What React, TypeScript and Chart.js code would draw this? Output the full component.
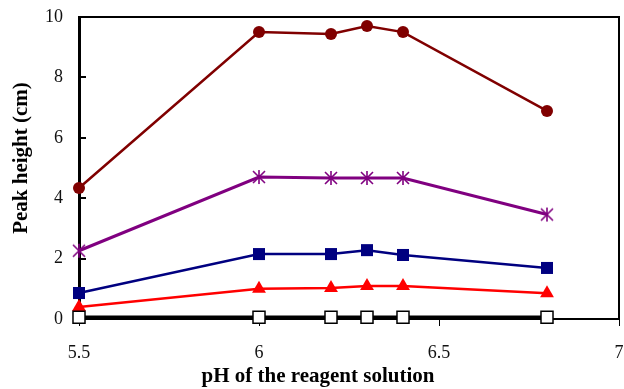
import React, { useEffect, useRef } from "react";
import { Chart, registerables } from "chart.js";

Chart.register(...registerables);

const phValues = [5.5, 6, 6.2, 6.3, 6.4, 6.8];
const seriesCircle = [4.34, 9.5, 9.44, 9.7, 9.5, 6.89];
const seriesStar = [2.26, 4.7, 4.67, 4.67, 4.67, 3.46];
const seriesSquare = [0.86, 2.15, 2.15, 2.28, 2.12, 1.69];
const seriesTriangle = [0.4, 1.0, 1.03, 1.09, 1.09, 0.85];
const seriesOpen = [0.06, 0.06, 0.06, 0.06, 0.06, 0.06];
const xTickValues = [5.5, 6, 6.5, 7];
const yTickValues = [0, 2, 4, 6, 8, 10];
const xTitle = "pH of the reagent solution";
const yTitle = "Peak height (cm)";

const FONT = "'Liberation Serif', 'Times New Roman', serif";

const toPoints = (ys: number[]) => phValues.map((x, i) => ({ x, y: ys[i] }));

function makeAsterisk(color: string) {
  const c = document.createElement("canvas");
  const s = 16;
  c.width = s;
  c.height = s;
  const g = c.getContext("2d")!;
  g.strokeStyle = color;
  g.lineWidth = 1.6;
  g.lineCap = "butt";
  g.beginPath();
  g.moveTo(s / 2, 1);
  g.lineTo(s / 2, s - 1);
  g.moveTo(2, 2);
  g.lineTo(s - 2, s - 2);
  g.moveTo(s - 2, 2);
  g.lineTo(2, s - 2);
  g.stroke();
  return c;
}

const decor = {
  id: "decor",
  beforeDatasetsDraw(chart: any) {
    const { ctx, chartArea, scales } = chart;
    const { left, right, top, bottom } = chartArea;
    ctx.save();
    ctx.strokeStyle = "#000";
    ctx.lineWidth = 2;
    ctx.beginPath();
    ctx.moveTo(left, top);
    ctx.lineTo(right, top);
    ctx.lineTo(right, bottom);
    ctx.stroke();
    ctx.lineWidth = 2;
    ctx.beginPath();
    yTickValues.forEach((v) => {
      const py = Math.round(scales.y.getPixelForValue(v));
      ctx.moveTo(left, py);
      ctx.lineTo(left + 7, py);
    });
    ctx.stroke();
    ctx.lineWidth = 1;
    ctx.beginPath();
    xTickValues.forEach((v) => {
      const px = Math.round(scales.x.getPixelForValue(v)) + 0.5;
      ctx.moveTo(px, bottom);
      ctx.lineTo(px, bottom + 7);
    });
    ctx.stroke();
    ctx.restore();
  },
  afterDraw(chart: any) {
    const { ctx } = chart;
    ctx.save();
    ctx.fillStyle = "#000";
    ctx.font = `bold 21px ${FONT}`;
    ctx.textAlign = "center";
    ctx.textBaseline = "middle";
    ctx.fillText(xTitle, 318, 377);
    ctx.translate(22, 158);
    ctx.rotate(-Math.PI / 2);
    ctx.fillText(yTitle, 0, 0);
    ctx.restore();
  },
};

export default function App() {
  const ref = useRef<HTMLCanvasElement | null>(null);
  useEffect(() => {
    document.body.style.margin = "0";
    const canvas = ref.current;
    if (!canvas) return;
    const common = { clip: false as any, showLine: true, tension: 0 };
    const chart = new Chart(canvas, {
      type: "scatter",
      data: {
        datasets: [
          {
            ...common,
            label: "open",
            data: toPoints(seriesOpen),
            borderColor: "#000",
            backgroundColor: "#fff",
            borderWidth: 3.5,
            pointStyle: "rect",
            pointRadius: 8.5,
            pointBorderWidth: 1.5,
            pointBorderColor: "#000",
            pointBackgroundColor: "#fff",
          },
          {
            ...common,
            label: "triangle",
            data: toPoints(seriesTriangle),
            borderColor: "#ff0000",
            backgroundColor: "#ff0000",
            borderWidth: 2.5,
            pointStyle: "triangle",
            pointRadius: 8,
            pointBorderWidth: 0,
          },
          {
            ...common,
            label: "square",
            data: toPoints(seriesSquare),
            borderColor: "#000080",
            backgroundColor: "#000080",
            borderWidth: 2.5,
            pointStyle: "rect",
            pointRadius: 8.5,
            pointBorderWidth: 0,
          },
          {
            ...common,
            label: "star",
            data: toPoints(seriesStar),
            borderColor: "#800080",
            backgroundColor: "#800080",
            borderWidth: 3,
            pointStyle: makeAsterisk("#800080") as any,
            pointRadius: 8,
          },
          {
            ...common,
            label: "circle",
            data: toPoints(seriesCircle),
            borderColor: "#800000",
            backgroundColor: "#800000",
            borderWidth: 2.5,
            pointStyle: "circle",
            pointRadius: 6,
            pointBorderWidth: 0,
          },
        ],
      },
      options: {
        responsive: false,
        animation: false,
        layout: { autoPadding: false, padding: { left: 0, right: 5, top: 17, bottom: 0 } },
        plugins: { legend: { display: false }, tooltip: { enabled: false } },
        scales: {
          x: {
            type: "linear",
            min: 5.5,
            max: 7,
            afterFit: (s: any) => {
              s.height = 70;
              s.paddingLeft = 0;
              s.paddingRight = 0;
              s.paddingTop = 0;
              s.paddingBottom = 0;
            },
            afterBuildTicks: (s: any) => {
              s.ticks = xTickValues.map((v) => ({ value: v }));
            },
            grid: { display: false },
            border: { display: true, color: "#000", width: 2 },
            ticks: {
              padding: 15,
              maxRotation: 0,
              color: "#111",
              font: { family: FONT, size: 18 },
              callback: (v: any) => String(v),
            },
          },
          y: {
            min: 0,
            max: 10,
            afterFit: (s: any) => {
              s.width = 79;
              s.paddingLeft = 0;
              s.paddingRight = 0;
              s.paddingTop = 0;
              s.paddingBottom = 0;
            },
            afterBuildTicks: (s: any) => {
              s.ticks = yTickValues.map((v) => ({ value: v }));
            },
            grid: { display: false },
            border: { display: true, color: "#000", width: 3 },
            ticks: {
              padding: 8,
              color: "#111",
              font: { family: FONT, size: 18 },
              callback: (v: any) => String(v),
            },
          },
        },
      },
      plugins: [decor],
    });
    return () => chart.destroy();
  }, []);
  return <canvas ref={ref} width={624} height={389} style={{ display: "block" }} />;
}
